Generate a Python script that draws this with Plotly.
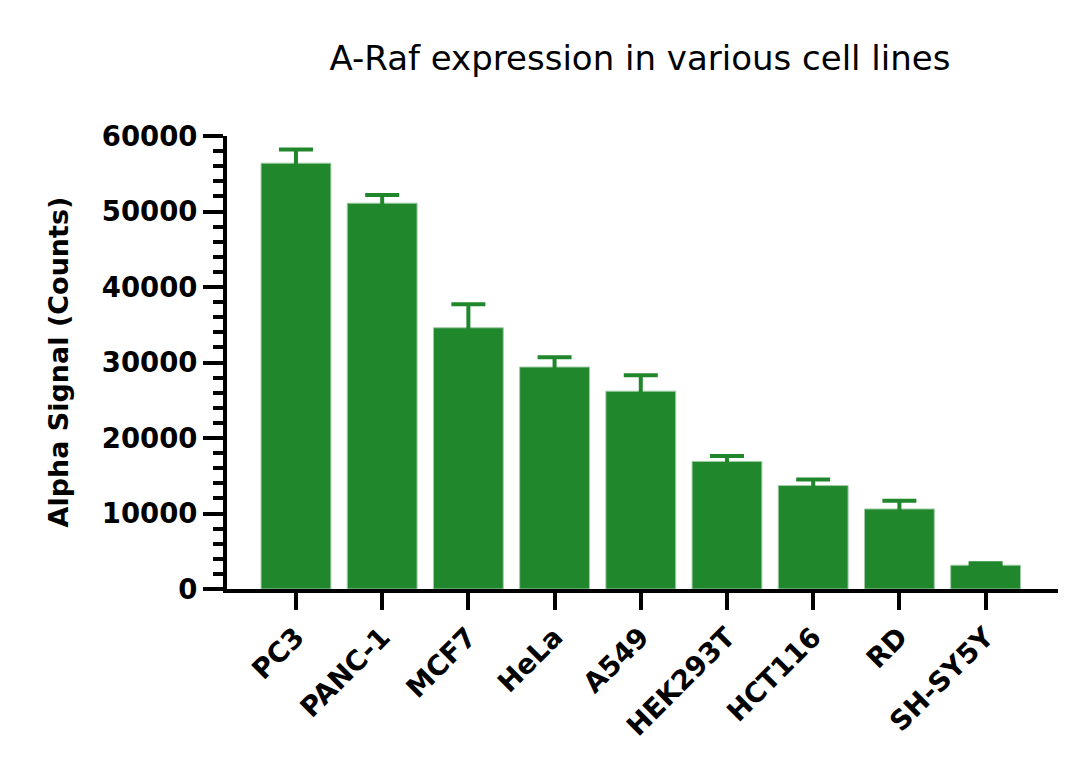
import plotly.graph_objects as go

categories = ["PC3", "PANC-1", "MCF7", "HeLa", "A549", "HEK293T", "HCT116", "RD", "SH-SY5Y"]
means = [56400, 51100, 34600, 29400, 26200, 16900, 13700, 10600, 3150]
errors = [1800, 1100, 3100, 1300, 2100, 700, 800, 1100, 250]

title_text = "A-Raf expression in various cell lines"
y_title = "Alpha Signal (Counts)"
y_ticks = [0, 10000, 20000, 30000, 40000, 50000, 60000]

GREEN = "#21872D"
TICK_FONT = dict(family="DejaVu Sans", size=27.5, color="black", weight="bold")

OFF = 8  # page offset of the plot div
L, R, T, B = 227 - OFF, 30, 136 - OFF, 777 - (589 - OFF)
PW = 1080 - L - R

fig = go.Figure()
fig.add_trace(go.Bar(
    x=categories,
    y=means,
    marker=dict(color=GREEN, line=dict(width=1, color="#9fcca4")),
    error_y=dict(type="data", array=errors, symmetric=True,
                 color=GREEN, thickness=4, width=17),
    width=0.81,
))

fig.update_layout(
    width=1080, height=777,
    margin=dict(l=L, r=R, t=T, b=B),
    paper_bgcolor="white", plot_bgcolor="white",
    showlegend=False,
    title=dict(text=title_text, x=(640 - OFF) / 1080, xanchor="center",
               y=1 - (58 - OFF) / 777, yanchor="middle",
               font=dict(family="DejaVu Sans", size=34, color="black")),
)

fig.update_xaxes(
    range=[-0.8, 8.84],
    showline=True, linecolor="black", linewidth=4,
    ticks="outside", ticklen=17, tickwidth=4, tickcolor="black",
    tickangle=-45, tickfont=TICK_FONT,
    showgrid=False, zeroline=False,
)

fig.update_yaxes(
    range=[0, 60000],
    tickvals=y_ticks, ticktext=[str(v) for v in y_ticks],
    showline=True, linecolor="black", linewidth=4,
    ticks="outside", ticklen=20, tickwidth=4, tickcolor="black",
    tickfont=TICK_FONT,
    minor=dict(dtick=2000, tick0=0, ticks="outside", ticklen=10, tickwidth=4, tickcolor="black", showgrid=False),
    showgrid=False, zeroline=False,
)

fig.add_annotation(
    text=y_title, textangle=-90,
    xref="paper", yref="paper",
    x=(58 - OFF - L) / PW, y=0.5, xanchor="center", yanchor="middle",
    showarrow=False,
    font=dict(family="DejaVu Sans", size=27, color="black", weight="bold"),
)

fig.write_html("out.html")
